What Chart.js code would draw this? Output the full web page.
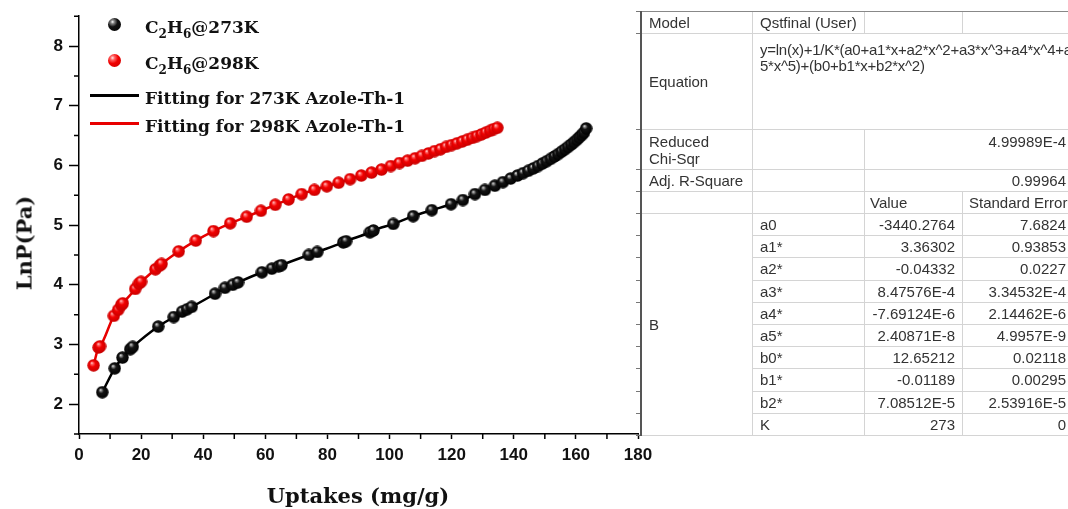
<!DOCTYPE html>
<html><head><meta charset="utf-8">
<script src="https://cdn.jsdelivr.net/npm/chart.js@4/dist/chart.umd.min.js"></script>
<style>
html,body{margin:0;padding:0;background:#fff;width:1068px;height:509px;overflow:hidden;}
#wrap{position:relative;width:1068px;height:509px;overflow:hidden;}
#c{position:absolute;left:0;top:0;}
.leg{position:absolute;font-family:'DejaVu Serif';font-weight:bold;font-size:17px;color:#111;white-space:nowrap;line-height:18px;}
.leg sub{font-size:12px;vertical-align:-5px;line-height:0;}
.dot{position:absolute;width:13px;height:13px;border-radius:50%;}
.lline{position:absolute;height:3px;}
.atitle{position:absolute;font-family:'DejaVu Serif';font-weight:bold;font-size:21px;color:#111;white-space:nowrap;line-height:21px;}
.cell{position:absolute;box-sizing:border-box;border-right:1px solid #d4d4d4;border-bottom:1px solid #d4d4d4;font-family:'Liberation Sans',Arial,sans-serif;font-size:15px;color:#333;white-space:nowrap;overflow:hidden;display:flex;align-items:center;padding:0 7px;line-height:17px;}
</style>
</head><body>
<div id="wrap">
<canvas id="c" width="1068" height="509"></canvas>
<div class="dot" style="left:108px;top:18px;background:radial-gradient(circle at 35% 30%,#fff 0%,#888 14%,#111 40%,#000 100%);"></div>
<div class="dot" style="left:108px;top:54px;background:radial-gradient(circle at 35% 30%,#ffe8e8 0%,#ff6060 18%,#f00000 45%,#c80000 100%);"></div>
<div class="lline" style="left:90px;top:94px;width:49px;background:#000;"></div>
<div class="lline" style="left:90px;top:122px;width:49px;background:#e80000;"></div>
<div class="leg" style="left:145px;top:18px;">C<sub>2</sub>H<sub>6</sub>@273K</div>
<div class="leg" style="left:145px;top:54px;">C<sub>2</sub>H<sub>6</sub>@298K</div>
<div class="leg" style="left:145px;top:89px;">Fitting for 273K Azole-Th-1</div>
<div class="leg" style="left:145px;top:117px;">Fitting for 298K Azole-Th-1</div>
<div class="atitle" id="xt" style="left:358px;top:495px;transform:translate(-50%,-50%);">Uptakes (mg/g)</div>
<div class="atitle" id="yt" style="left:24px;top:243px;transform:translate(-50%,-50%) rotate(-90deg);">LnP(Pa)</div>
<div id="tbl"></div>
</div>
<script>
// ---- data ----
const uptake273 = [7.5, 11.5, 14.0, 16.5, 17.3, 25.5, 30.5, 33.2, 34.8, 36.3, 43.8, 47.0, 49.5, 51.2, 58.9, 62.1, 64.3, 65.2, 74.0, 76.7, 85.1, 86.0, 93.7, 94.8, 101.2, 107.6, 113.6, 119.8, 123.6, 127.5, 130.7, 133.9, 136.5, 139.0, 141.2, 143.0, 144.7, 146.3, 147.8, 149.2, 150.6, 151.9, 153.1, 154.3, 155.4, 156.5, 157.5, 158.5, 159.4, 160.3, 161.1, 161.9, 162.6, 163.3];
const lnP273    = [2.20, 2.60, 2.78, 2.92, 2.96, 3.30, 3.46, 3.55, 3.59, 3.63, 3.85, 3.95, 4.00, 4.04, 4.21, 4.27, 4.31, 4.33, 4.50, 4.55, 4.71, 4.73, 4.88, 4.91, 5.02, 5.15, 5.25, 5.35, 5.42, 5.52, 5.59, 5.66, 5.72, 5.78, 5.83, 5.87, 5.91, 5.95, 5.99, 6.03, 6.07, 6.11, 6.15, 6.19, 6.23, 6.27, 6.31, 6.35, 6.39, 6.43, 6.47, 6.51, 6.55, 6.62];
const uptake298 = [4.7, 6.3, 6.8, 11.2, 12.6, 13.6, 14.1, 18.1, 19.3, 20.0, 24.6, 26.0, 26.6, 32.1, 37.6, 43.3, 48.7, 54.0, 58.6, 63.2, 67.5, 71.7, 75.8, 79.8, 83.6, 87.3, 90.9, 94.2, 97.4, 100.4, 103.2, 105.8, 108.2, 110.4, 112.5, 114.5, 116.4, 118.2, 120.0, 121.7, 123.4, 125.0, 126.6, 128.1, 129.6, 131.0, 132.4, 133.6, 134.7];
const lnP298    = [2.65, 2.95, 2.97, 3.48, 3.58, 3.66, 3.69, 3.93, 4.02, 4.05, 4.26, 4.32, 4.35, 4.56, 4.74, 4.90, 5.03, 5.14, 5.24, 5.34, 5.43, 5.52, 5.59, 5.65, 5.71, 5.77, 5.83, 5.88, 5.93, 5.99, 6.04, 6.08, 6.12, 6.16, 6.20, 6.24, 6.27, 6.31, 6.34, 6.37, 6.40, 6.43, 6.46, 6.49, 6.52, 6.55, 6.58, 6.61, 6.63];
const xTickLabels = [0, 20, 40, 60, 80, 100, 120, 140, 160, 180];
const xMinorTicks = [10, 30, 50, 70, 90, 110, 130, 150, 170];
const yTickLabels = [2, 3, 4, 5, 6, 7, 8];
const yMinorTicks = [1.5, 2.5, 3.5, 4.5, 5.5, 6.5, 7.5, 8.5];

// fit table
const paramNames  = ['a0', 'a1*', 'a2*', 'a3*', 'a4*', 'a5*', 'b0*', 'b1*', 'b2*', 'K'];
const paramValues = ['-3440.2764', '3.36302', '-0.04332', '8.47576E-4', '-7.69124E-6', '2.40871E-8', '12.65212', '-0.01189', '7.08512E-5', '273'];
const paramErrors = ['7.6824', '0.93853', '0.0227', '3.34532E-4', '2.14462E-6', '4.9957E-9', '0.02118', '0.00295', '2.53916E-5', '0'];

// ---- table ----
(function(){
  const t = document.getElementById('tbl');
  const C = [642, 753, 865, 963, 1074];
  const R = [12, 34, 130, 170, 192, 214];
  for (let k = 1; k <= 10; k++) R.push(214 + 22.2 * k);
  function cell(c0, c1, r0, r1, html, st) {
    const d = document.createElement('div');
    d.className = 'cell';
    d.style.left = C[c0] + 'px'; d.style.width = (C[c1] - C[c0]) + 'px';
    d.style.top = R[r0] + 'px'; d.style.height = (R[r1] - R[r0]) + 'px';
    d.innerHTML = html;
    if (st) Object.assign(d.style, st);
    t.appendChild(d);
  }
  const right = {justifyContent: 'flex-end'};
  const topA = {alignItems: 'flex-start', paddingTop: '3px'};
  cell(0,1,0,1,'Model'); cell(1,2,0,1,'Qstfinal (User)'); cell(2,3,0,1,''); cell(3,4,0,1,'');
  cell(0,1,1,2,'Equation');
  cell(1,4,1,2,'y=ln(x)+1/K*(a0+a1*x+a2*x^2+a3*x^3+a4*x^4+a<br>5*x^5)+(b0+b1*x+b2*x^2)', {alignItems:'flex-start', paddingTop:'8px', lineHeight:'16px', letterSpacing:'-0.25px'});
  cell(0,1,2,3,'Reduced<br>Chi-Sqr', topA); cell(1,2,2,3,''); cell(2,4,2,3,'4.99989E-4', Object.assign({}, topA, right));
  cell(0,1,3,4,'Adj. R-Square'); cell(1,2,3,4,''); cell(2,4,3,4,'0.99964', right);
  cell(0,1,4,5,''); cell(1,2,4,5,''); cell(2,3,4,5,'Value', {paddingLeft:'5px'}); cell(3,4,4,5,'Standard Error', {paddingLeft:'6px'});
  cell(0,1,5,15,'B');
  for (let i = 0; i < paramNames.length; i++) {
    cell(1,2,5+i,6+i,paramNames[i]);
    cell(2,3,5+i,6+i,paramValues[i], right);
    cell(3,4,5+i,6+i,paramErrors[i], right);
  }
  // frame lines
  const top = document.createElement('div');
  Object.assign(top.style,{position:'absolute',left:'640px',top:'11px',width:'430px',height:'1px',background:'#888'});
  t.appendChild(top);
  const lft = document.createElement('div');
  Object.assign(lft.style,{position:'absolute',left:'640px',top:'11px',width:'2px',height:(R[15]-11)+'px',background:'#555'});
  t.appendChild(lft);
  for (let k = 0; k < R.length; k++) {
    const m = document.createElement('div');
    Object.assign(m.style,{position:'absolute',left:'636px',top:(R[k]-1)+'px',width:'4px',height:'1px',background:'#777'});
    t.appendChild(m);
  }
})();

// ---- sphere markers ----
function sphere(stops, d) {
  const c = document.createElement('canvas');
  c.width = d; c.height = d;
  const g = c.getContext('2d');
  const r = d / 2;
  const gr = g.createRadialGradient(r * 0.7, r * 0.6, 0, r, r, r);
  stops.forEach(s => gr.addColorStop(s[0], s[1]));
  g.fillStyle = gr;
  g.beginPath(); g.arc(r, r, r - 0.3, 0, Math.PI * 2); g.fill();
  return c;
}
const blackBall = sphere([[0,'#ffffff'],[0.14,'#9a9a9a'],[0.4,'#151515'],[1,'#000000']], 13);
const redBall = sphere([[0,'#ffe8e8'],[0.18,'#ff6a6a'],[0.45,'#f20000'],[1,'#c40000']], 13);

const pts = (xs, ys) => xs.map((x, i) => ({x: x, y: ys[i]}));

const minorTicks = {
  id: 'minorTicks',
  afterDraw(chart) {
    const ctx = chart.ctx, xs = chart.scales.x, ys = chart.scales.y;
    ctx.save();
    ctx.strokeStyle = '#000'; ctx.lineWidth = 1.5;
    ctx.beginPath();
    xMinorTicks.forEach(v => { const p = xs.getPixelForValue(v); ctx.moveTo(p, ys.bottom); ctx.lineTo(p, ys.bottom + 5); });
    yMinorTicks.forEach(v => { const p = ys.getPixelForValue(v); ctx.moveTo(xs.left, p); ctx.lineTo(xs.left - 5, p); });
    ctx.stroke();
    ctx.restore();
  }
};

new Chart(document.getElementById('c'), {
  type: 'scatter',
  data: {
    datasets: [
      {label: 'C2H6@273K', data: pts(uptake273, lnP273), pointStyle: blackBall, pointRadius: 6.5, showLine: false},
      {label: 'C2H6@298K', data: pts(uptake298, lnP298), pointStyle: redBall, pointRadius: 6.5, showLine: false},
      {label: 'Fitting for 273K Azole-Th-1', data: pts(uptake273, lnP273), showLine: true, pointRadius: 0, borderColor: '#000', borderWidth: 2.5, cubicInterpolationMode: 'monotone'},
      {label: 'Fitting for 298K Azole-Th-1', data: pts(uptake298, lnP298), showLine: true, pointRadius: 0, borderColor: '#e80000', borderWidth: 2.5, cubicInterpolationMode: 'monotone'}
    ]
  },
  options: {
    responsive: false, animation: false, events: [],
    layout: {padding: {left: 0, right: 430, top: 13, bottom: 0}},
    plugins: {legend: {display: false}, tooltip: {enabled: false}},
    scales: {
      x: {
        type: 'linear', min: 0, max: 180,
        afterBuildTicks(s) { s.ticks = xTickLabels.map(v => ({value: v})); },
        afterFit(s) { s.height = 75; },
        grid: {drawOnChartArea: false, drawTicks: true, tickLength: 5, tickWidth: 1.5, tickColor: '#000'},
        border: {display: true, color: '#000', width: 1.5},
        ticks: {font: {family: 'Liberation Sans', weight: 'bold', size: 17}, color: '#111', padding: 6, maxRotation: 0, autoSkip: false}
      },
      y: {
        type: 'linear', min: 1.5, max: 8.5,
        afterBuildTicks(s) { s.ticks = yTickLabels.map(v => ({value: v})); },
        afterFit(s) { s.width = 79; },
        grid: {drawOnChartArea: false, drawTicks: true, tickLength: 10, tickWidth: 1.5, tickColor: '#000'},
        border: {display: true, color: '#000', width: 1.5},
        ticks: {font: {family: 'Liberation Sans', weight: 'bold', size: 17}, color: '#111', padding: 6, autoSkip: false}
      }
    }
  },
  plugins: [minorTicks]
});
</script>
</body></html>
